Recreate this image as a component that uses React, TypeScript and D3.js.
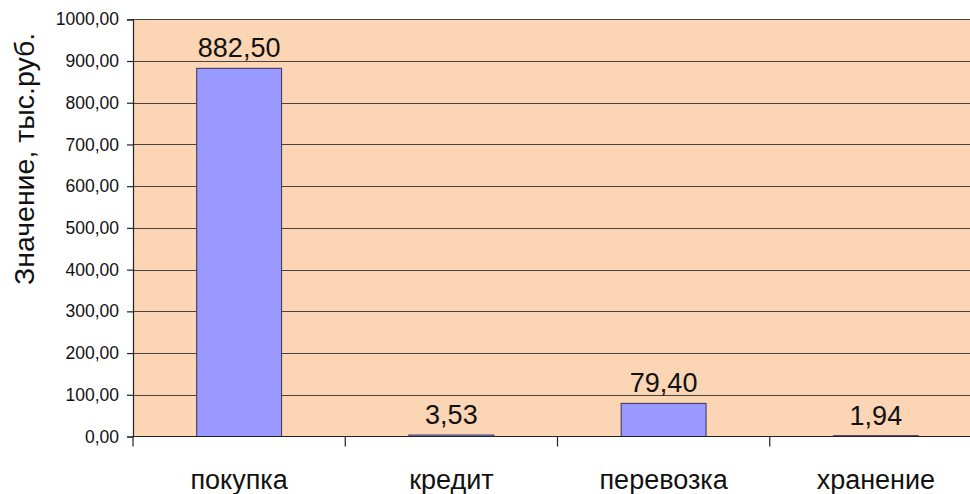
import React, { useEffect, useRef } from 'react';
import * as d3 from 'd3';

const categories = ['покупка', 'кредит', 'перевозка', 'хранение'];
const values = [882.5, 3.53, 79.4, 1.94];
const yTicks = [0, 100, 200, 300, 400, 500, 600, 700, 800, 900, 1000];

const fmt = (v: number) => v.toFixed(2).replace('.', ',');

function BarChart() {
  const ref = useRef<SVGSVGElement>(null);

  useEffect(() => {
    const svg = d3.select(ref.current);
    svg.selectAll('*').remove();

    const font = 'Arial, "Liberation Sans", sans-serif';
    const left = 133, right = 982, top = 19.3, bottom = 436.5;

    const y = d3.scaleLinear().domain([0, 1000]).range([bottom, top]);
    // band used for bars (bar = 40% of the category slot)
    const x = d3.scaleBand().domain(categories).range([left, right]).paddingInner(0.6).paddingOuter(0.3);
    // plain slots for tick marks and category labels
    const slot = d3.scaleBand().domain(categories).range([left, right]).padding(0);

    // plot area
    svg.append('rect')
      .attr('x', left).attr('y', top)
      .attr('width', right - left).attr('height', bottom - top)
      .attr('fill', '#fcd5b4');

    // gridlines
    svg.append('g')
      .selectAll('line')
      .data(yTicks.filter(d => d > 0))
      .join('line')
      .attr('x1', left).attr('x2', right)
      .attr('y1', d => Math.round(y(d)) + 0.5).attr('y2', d => Math.round(y(d)) + 0.5)
      .attr('stroke', '#4a4440')
      .attr('stroke-width', 1.2);

    // bars
    svg.append('g')
      .selectAll('rect')
      .data(values)
      .join('rect')
      .attr('x', (d, i) => x(categories[i])!)
      .attr('y', d => y(d))
      .attr('width', x.bandwidth())
      .attr('height', d => bottom - y(d))
      .attr('fill', '#9999ff')
      .attr('stroke', '#333355')
      .attr('stroke-width', 1);

    // value labels
    svg.append('g')
      .selectAll('text')
      .data(values)
      .join('text')
      .attr('x', (d, i) => x(categories[i])! + x.bandwidth() / 2)
      .attr('y', d => y(d) - 11)
      .attr('text-anchor', 'middle')
      .style('font-family', font)
      .style('font-size', '27px')
      .style('fill', '#111')
      .text(d => fmt(d));

    // y axis
    const yAxis = svg.append('g')
      .attr('transform', `translate(${left},0)`)
      .call(d3.axisLeft(y).tickValues(yTicks).tickSize(6).tickPadding(8).tickFormat(d => fmt(+d)));
    yAxis.select('.domain').attr('stroke', '#222').attr('stroke-width', 1.2);
    yAxis.selectAll('line').attr('stroke', '#222').attr('stroke-width', 1.2);
    yAxis.selectAll('text')
      .style('font-family', font)
      .style('font-size', '17.5px')
      .style('fill', '#111');

    // x axis line and slot ticks
    svg.append('line')
      .attr('x1', left).attr('x2', right)
      .attr('y1', bottom).attr('y2', bottom)
      .attr('stroke', '#222').attr('stroke-width', 1.2);
    svg.append('g')
      .selectAll('line')
      .data(categories)
      .join('line')
      .attr('x1', d => slot(d)!).attr('x2', d => slot(d)!)
      .attr('y1', bottom).attr('y2', bottom + 10)
      .attr('stroke', '#222').attr('stroke-width', 1.2);

    // category labels
    svg.append('g')
      .selectAll('text')
      .data(categories)
      .join('text')
      .attr('x', d => slot(d)! + slot.bandwidth() / 2)
      .attr('y', 489)
      .attr('text-anchor', 'middle')
      .style('font-family', font)
      .style('font-size', '27px')
      .style('fill', '#111')
      .text(d => d);

    // y axis title
    svg.append('text')
      .attr('transform', 'translate(34,285) rotate(-90)')
      .attr('text-anchor', 'start')
      .style('font-family', font)
      .style('font-size', '28.5px')
      .style('fill', '#111')
      .text('Значение, тыс.руб.');
  }, []);

  return <svg ref={ref} width={970} height={494} style={{ display: 'block' }} />;
}

export default function App() {
  return (
    <div style={{ position: 'fixed', left: 0, top: 0, width: 970, height: 494, background: '#fff' }}>
      <BarChart />
    </div>
  );
}
